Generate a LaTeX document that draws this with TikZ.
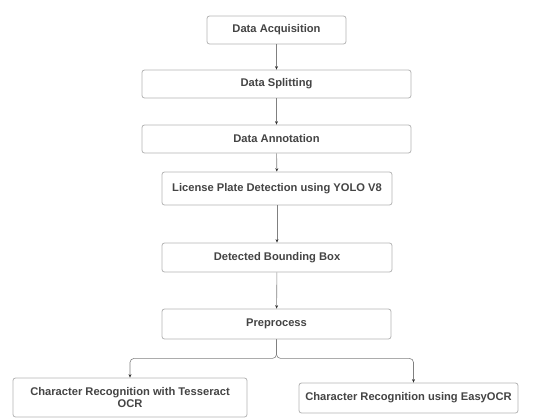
\documentclass[tikz,border=0pt]{standalone}
\usepackage{fontspec}
\setmainfont{Liberation Sans}
\usepackage{tikz}
\usetikzlibrary{
  arrows.meta,
  positioning
}
\definecolor{boxline}{HTML}{B4B4B4}
\definecolor{boxtext}{HTML}{444444}
\tikzset{
  stage/.style={draw=boxline, line width=0.8bp, rounded corners=2.5bp, fill=white,
    inner sep=2bp, align=center, text=boxtext, font=\bfseries\fontsize{11.2}{12.5}\selectfont},
  link/.style={draw=black!50, line width=0.6bp, -{Stealth[length=3.5bp,width=3bp,black!80]}}
}

\begin{document}
\begin{tikzpicture}[x=1bp,y=-1bp]
			\useasboundingbox (0,0) rectangle (536,419);

			\node[stage, minimum width=139bp, minimum height=28bp] (acq) at (276.5,30) {Data Acquisition};
			\node[stage, minimum width=269bp, minimum height=28bp] (split) at (276.5,84) {Data Splitting};
			\node[stage, minimum width=269bp, minimum height=28bp] (annot) at (276.5,139) {Data Annotation};
			\node[stage, minimum width=230bp, minimum height=33bp] (yolo) at (277,188.5) {License Plate Detection using YOLO V8};
			\node[stage, minimum width=230bp, minimum height=29bp] (bbox) at (277,257.5) {Detected Bounding Box};
			\node[stage, minimum width=229bp, minimum height=30bp] (prep) at (276.5,324) {Preprocess};
			\node[stage, minimum width=234bp, minimum height=39bp] (tess) at (130,397.5) {Character Recognition with Tesseract\\OCR};
			\node[stage, minimum width=219bp, minimum height=30bp] (easy) at (408.5,398) {Character Recognition using EasyOCR};

			\draw[link] (acq) -- (split);
			\draw[link] (split) -- (annot);
			\draw[link] (annot) -- (yolo);
			\draw[link] (yolo) -- (bbox);
			\draw[link] (bbox) -- (prep);

			\draw[link, rounded corners=4bp] (prep.south) -- ++(0,19) -| (tess.north);
			\draw[link, rounded corners=4bp] (prep.south) -- ++(0,19) -| ([xshift=5bp]easy.north);
		\end{tikzpicture}
\end{document}
